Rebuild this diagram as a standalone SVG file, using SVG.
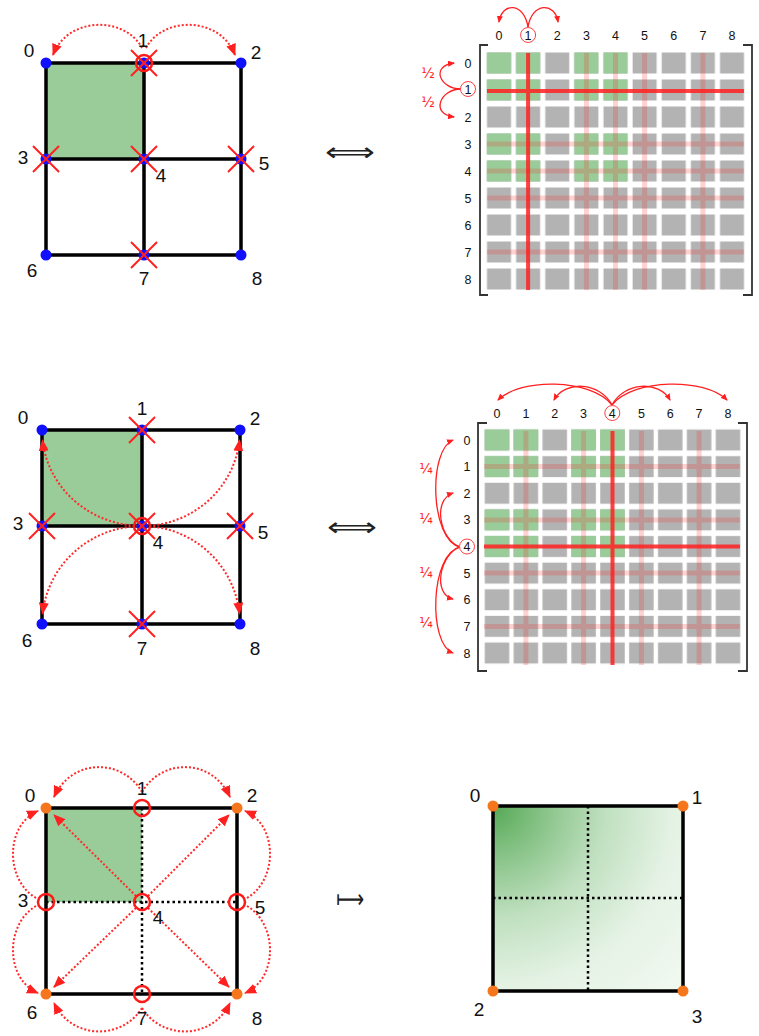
<svg xmlns="http://www.w3.org/2000/svg" xmlns:xlink="http://www.w3.org/1999/xlink" width="759" height="1036" viewBox="0 0 759 1036">
<style>
.lbl{font-family:"Liberation Sans",Arial,sans-serif;font-size:19px;fill:#111;text-anchor:middle}
.ml{font-family:"Liberation Sans",Arial,sans-serif;font-size:12.5px;fill:#111;text-anchor:middle}
.frac{font-family:"DejaVu Sans","Liberation Sans",sans-serif;font-size:14px;fill:#ff2020;text-anchor:middle}
.sym{font-family:"DejaVu Sans",sans-serif;font-size:26px;fill:#222}
.edge{stroke:#000;stroke-width:3.5;fill:none}
.idot{stroke:#000;stroke-width:2.5;stroke-dasharray:2.5 3;fill:none}
.rdot{stroke:#ff2a2a;stroke-width:2;stroke-dasharray:2 2;fill:none}
.rarc{stroke:#ff2020;stroke-width:1.3;fill:none}
.circ{fill:none;stroke:#ff1a1a;stroke-width:2.5}
.mc{fill:#fff;stroke:#ff4040;stroke-width:1}
.blue{fill:#1010ff}
.orange{fill:#f5761c}
.thick{stroke:#ff2020;stroke-opacity:0.85;stroke-width:4}
.faint{stroke:#ff2020;stroke-opacity:0.2;stroke-width:5}
.brk{stroke:#333;stroke-width:1.8;fill:none}
</style>
<defs>
<marker id="ah" markerUnits="userSpaceOnUse" markerWidth="12" markerHeight="10" viewBox="0 0 12 10" refX="11" refY="5" orient="auto">
<path d="M0,0L12,5L0,10z" fill="#ff2020"/>
</marker>
<marker id="sa" markerUnits="userSpaceOnUse" markerWidth="7" markerHeight="6" viewBox="0 0 7 6" refX="6" refY="3" orient="auto">
<path d="M0,0L7,3L0,6z" fill="#ff2020"/>
</marker>
<path id="cross" d="M-13,-13L13,13M13,-13L-13,13" stroke="#ff2020" stroke-width="2" fill="none"/>
<pattern id="gp1" patternUnits="userSpaceOnUse" x="484.44" y="49.5" width="29.125" height="27">
<rect x="2.56" y="3" width="24" height="21" fill="#b3b3b3"/>
</pattern>
<pattern id="gn1" patternUnits="userSpaceOnUse" x="484.44" y="49.5" width="29.125" height="27">
<rect x="2.56" y="3" width="24" height="21" fill="#99cc99"/>
</pattern>
<pattern id="gp2" patternUnits="userSpaceOnUse" x="482.56" y="426.69" width="28.875" height="26.625">
<rect x="2.19" y="2.81" width="24.5" height="21" fill="#b3b3b3"/>
</pattern>
<pattern id="gn2" patternUnits="userSpaceOnUse" x="482.56" y="426.69" width="28.875" height="26.625">
<rect x="2.19" y="2.81" width="24.5" height="21" fill="#99cc99"/>
</pattern>
<radialGradient id="shape" gradientUnits="userSpaceOnUse" cx="493" cy="806" r="250">
<stop offset="0" stop-color="#55a955"/>
<stop offset="0.22" stop-color="#8cc58c"/>
<stop offset="0.45" stop-color="#c0e0c0"/>
<stop offset="0.72" stop-color="#e4f2e4"/>
<stop offset="1" stop-color="#f0f8f0"/>
</radialGradient>
</defs>

<!-- ===== Top-left grid ===== -->
<g id="top-grid">
<rect x="46" y="63" width="98" height="96" fill="#99cc99"/>
<path class="edge" d="M46,63H241M46,159H241M46,255H241M46,63V255M144,63V255M241,63V255"/>
</g>
<g id="top-connectors">
<path class="rdot" d="M142,48C125,16 68,16 53,55" marker-end="url(#ah)"/>
<path class="rdot" d="M146,48C163,16 220,16 235,55" marker-end="url(#ah)"/>
</g>
<g id="t0"><circle class="blue" cx="46" cy="63" r="5.5"/><text class="lbl" x="29" y="57">0</text></g>
<g id="t1"><circle class="blue" cx="144" cy="63" r="5.5"/><use xlink:href="#cross" x="144" y="63"/><circle class="circ" cx="144" cy="63" r="8"/><text class="lbl" x="143" y="47">1</text></g>
<g id="t2"><circle class="blue" cx="241" cy="63" r="5.5"/><text class="lbl" x="256" y="59">2</text></g>
<g id="t3"><circle class="blue" cx="46" cy="159" r="5.5"/><use xlink:href="#cross" x="46" y="159"/><text class="lbl" x="23" y="164">3</text></g>
<g id="t4"><circle class="blue" cx="144" cy="159" r="5.5"/><use xlink:href="#cross" x="144" y="159"/><text class="lbl" x="161" y="182">4</text></g>
<g id="t5"><circle class="blue" cx="241" cy="159" r="5.5"/><use xlink:href="#cross" x="241" y="159"/><text class="lbl" x="264" y="170">5</text></g>
<g id="t6"><circle class="blue" cx="46" cy="255" r="5.5"/><text class="lbl" x="32" y="277">6</text></g>
<g id="t7"><circle class="blue" cx="144" cy="255" r="5.5"/><use xlink:href="#cross" x="144" y="255"/><text class="lbl" x="144" y="285">7</text></g>
<g id="t8"><circle class="blue" cx="241" cy="255" r="5.5"/><text class="lbl" x="257" y="285">8</text></g>

<text id="sym1" class="sym" x="325" y="161" textLength="50" lengthAdjust="spacingAndGlyphs">⟺</text>

<!-- ===== Top matrix ===== -->
<g id="top-matrix">
<rect x="484.44" y="49.5" width="262.125" height="243" fill="url(#gp1)"/>
<rect x="484.44" y="49.5" width="58.25" height="54" fill="url(#gn1)"/>
<rect x="571.81" y="49.5" width="58.25" height="54" fill="url(#gn1)"/>
<rect x="484.44" y="130.5" width="58.25" height="54" fill="url(#gn1)"/>
<rect x="571.81" y="130.5" width="58.25" height="54" fill="url(#gn1)"/>
<path class="faint" d="M586.4,53V290M615.5,53V290M644.6,53V290M702.9,53V290M487,144H744M487,171H744M487,198H744M487,252H744"/>
<path class="thick" d="M528.1,53V290M487,91H744"/>
<path class="brk" d="M488,45H480V295H488M743,45H752V295H743"/>
<g class="ml">
<text x="499" y="39.5">0</text><text x="557.3" y="39.5">2</text><text x="586.4" y="39.5">3</text><text x="615.5" y="39.5">4</text><text x="644.6" y="39.5">5</text><text x="673.8" y="39.5">6</text><text x="702.9" y="39.5">7</text><text x="732" y="39.5">8</text>
<text x="468" y="67.5">0</text><text x="468" y="121.5">2</text><text x="468" y="148.5">3</text><text x="468" y="175.5">4</text><text x="468" y="202.5">5</text><text x="468" y="229.5">6</text><text x="468" y="256.5">7</text><text x="468" y="283.5">8</text>
</g>
</g>
<g id="top-matrix-connectors">
<path class="rarc" d="M528,27C524,2 502,2 499,22" marker-end="url(#sa)"/>
<path class="rarc" d="M528,27C532,2 555,2 558,22" marker-end="url(#sa)"/>
<path class="rarc" d="M461,89C440,89 430,66 454,63" marker-end="url(#sa)"/>
<path class="rarc" d="M461,89C440,89 430,114 454,117" marker-end="url(#sa)"/>
</g>
<g id="tm-col1"><circle class="mc" cx="528.1" cy="35" r="7.5"/><text class="ml" x="528.1" y="39.5">1</text></g>
<g id="tm-row1"><circle class="mc" cx="468" cy="89" r="7.5"/><text class="ml" x="468" y="93.5">1</text></g>
<text class="frac" x="428" y="78">½</text>
<text class="frac" x="428" y="107">½</text>

<!-- ===== Middle-left grid ===== -->
<g id="mid-grid">
<rect x="42" y="430" width="100" height="96" fill="#99cc99"/>
<path class="edge" d="M42,430H240M42,526H240M42,624H240M42,430V624M142,430V624M240,430V624"/>
</g>
<g id="mid-connectors">
<path class="rdot" d="M138.5,525.9A100,96 0 0 1 42.5,440" marker-end="url(#ah)"/>
<path class="rdot" d="M145.4,525.9A98,96 0 0 0 239.5,440" marker-end="url(#ah)"/>
<path class="rdot" d="M138.5,526.1A100,98 0 0 0 42.6,613.8" marker-end="url(#ah)"/>
<path class="rdot" d="M145.4,526.1A98,98 0 0 1 239.5,613.8" marker-end="url(#ah)"/>
</g>
<g id="m0"><circle class="blue" cx="42" cy="430" r="5.5"/><text class="lbl" x="23" y="424">0</text></g>
<g id="m1"><circle class="blue" cx="142" cy="430" r="5.5"/><use xlink:href="#cross" x="142" y="430"/><text class="lbl" x="142" y="415">1</text></g>
<g id="m2"><circle class="blue" cx="240" cy="430" r="5.5"/><text class="lbl" x="255" y="425">2</text></g>
<g id="m3"><circle class="blue" cx="42" cy="526" r="5.5"/><use xlink:href="#cross" x="42" y="526"/><text class="lbl" x="18" y="530">3</text></g>
<g id="m4"><circle class="blue" cx="142" cy="526" r="5.5"/><use xlink:href="#cross" x="142" y="526"/><circle class="circ" cx="142" cy="526" r="8"/><text class="lbl" x="158" y="549">4</text></g>
<g id="m5"><circle class="blue" cx="240" cy="526" r="5.5"/><use xlink:href="#cross" x="240" y="526"/><text class="lbl" x="263" y="539">5</text></g>
<g id="m6"><circle class="blue" cx="42" cy="624" r="5.5"/><text class="lbl" x="27" y="647">6</text></g>
<g id="m7"><circle class="blue" cx="142" cy="624" r="5.5"/><use xlink:href="#cross" x="142" y="624"/><text class="lbl" x="142" y="655">7</text></g>
<g id="m8"><circle class="blue" cx="240" cy="624" r="5.5"/><text class="lbl" x="255" y="655">8</text></g>

<text id="sym2" class="sym" x="327" y="536" textLength="50" lengthAdjust="spacingAndGlyphs">⟺</text>

<!-- ===== Middle matrix ===== -->
<g id="mid-matrix">
<rect x="482.56" y="426.69" width="259.875" height="239.625" fill="url(#gp2)"/>
<rect x="482.56" y="426.69" width="57.75" height="53.25" fill="url(#gn2)"/>
<rect x="569.19" y="426.69" width="57.75" height="53.25" fill="url(#gn2)"/>
<rect x="482.56" y="506.56" width="57.75" height="53.25" fill="url(#gn2)"/>
<rect x="569.19" y="506.56" width="57.75" height="53.25" fill="url(#gn2)"/>
<path class="faint" d="M525.9,431V665M583.6,431V665M641.4,431V665M699.1,431V665M484,466.6H740M484,519.9H740M484,573.1H740M484,626.4H740"/>
<path class="thick" d="M612.5,431V665M484,546.5H740"/>
<path class="brk" d="M487,423H478V671H487M738,423H747V671H738"/>
<g class="ml">
<text x="497" y="417.5">0</text><text x="525.9" y="417.5">1</text><text x="554.8" y="417.5">2</text><text x="583.6" y="417.5">3</text><text x="641.4" y="417.5">5</text><text x="670.3" y="417.5">6</text><text x="699.1" y="417.5">7</text><text x="728" y="417.5">8</text>
<text x="467" y="444.5">0</text><text x="467" y="471.1">1</text><text x="467" y="497.8">2</text><text x="467" y="524.4">3</text><text x="467" y="577.6">5</text><text x="467" y="604.3">6</text><text x="467" y="630.9">7</text><text x="467" y="657.5">8</text>
</g>
</g>
<g id="mid-matrix-connectors">
<path class="rarc" d="M612,405C590,378 520,378 498,400" marker-end="url(#sa)"/>
<path class="rarc" d="M612,405C600,382 565,380 554,400" marker-end="url(#sa)"/>
<path class="rarc" d="M612,405C624,382 659,380 670,400" marker-end="url(#sa)"/>
<path class="rarc" d="M612,405C634,378 705,378 727,400" marker-end="url(#sa)"/>
<path class="rarc" d="M460,547C430,540 428,450 453,440" marker-end="url(#sa)"/>
<path class="rarc" d="M460,547C440,540 432,500 453,493" marker-end="url(#sa)"/>
<path class="rarc" d="M460,547C440,554 432,594 453,599" marker-end="url(#sa)"/>
<path class="rarc" d="M460,547C430,554 428,644 453,653" marker-end="url(#sa)"/>
</g>
<g id="mm-col4"><circle class="mc" cx="612.3" cy="413" r="7.5"/><text class="ml" x="612.3" y="417.5">4</text></g>
<g id="mm-row4"><circle class="mc" cx="467" cy="546.5" r="7.5"/><text class="ml" x="467" y="551">4</text></g>
<text class="frac" x="426" y="473">¼</text>
<text class="frac" x="426" y="523">¼</text>
<text class="frac" x="426" y="577">¼</text>
<text class="frac" x="426" y="627">¼</text>

<!-- ===== Bottom-left grid ===== -->
<g id="bot-grid">
<rect x="46" y="808" width="96" height="94" fill="#99cc99"/>
<path class="edge" d="M46,808H237V994H46Z"/>
<path class="idot" d="M142,808V994M46,902H237"/>
</g>
<g id="bot-connectors">
<path class="rdot" d="M142,792C122,758 72,758 54,797" marker-end="url(#ah)"/>
<path class="rdot" d="M142,792C162,758 212,758 230,797" marker-end="url(#ah)"/>
<path class="rdot" d="M36,898C5,880 5,825 38,811" marker-end="url(#ah)"/>
<path class="rdot" d="M36,906C5,924 5,979 38,993" marker-end="url(#ah)"/>
<path class="rdot" d="M247,898C278,880 278,825 245,811" marker-end="url(#ah)"/>
<path class="rdot" d="M247,906C278,924 278,979 245,993" marker-end="url(#ah)"/>
<path class="rdot" d="M142,1008C122,1040 72,1040 54,1003" marker-end="url(#ah)"/>
<path class="rdot" d="M142,1008C162,1040 212,1040 230,1003" marker-end="url(#ah)"/>
<path class="rdot" d="M136,896L54,815" marker-end="url(#ah)"/>
<path class="rdot" d="M148,896L229,815" marker-end="url(#ah)"/>
<path class="rdot" d="M136,908L54,987" marker-end="url(#ah)"/>
<path class="rdot" d="M148,908L229,987" marker-end="url(#ah)"/>
</g>
<g id="b0"><circle class="orange" cx="46" cy="808" r="5.5"/><text class="lbl" x="30" y="802">0</text></g>
<g id="b1"><circle class="circ" cx="142" cy="808" r="8"/><text class="lbl" x="142" y="795">1</text></g>
<g id="b2"><circle class="orange" cx="237" cy="808" r="5.5"/><text class="lbl" x="252" y="802">2</text></g>
<g id="b3"><circle class="circ" cx="46" cy="902" r="8"/><text class="lbl" x="23" y="907">3</text></g>
<g id="b4"><circle class="circ" cx="142" cy="902" r="8"/><text class="lbl" x="158" y="924">4</text></g>
<g id="b5"><circle class="circ" cx="237" cy="902" r="8"/><text class="lbl" x="260" y="914">5</text></g>
<g id="b6"><circle class="orange" cx="46" cy="994" r="5.5"/><text class="lbl" x="32" y="1019">6</text></g>
<g id="b7"><circle class="circ" cx="142" cy="994" r="8"/><text class="lbl" x="142" y="1025">7</text></g>
<g id="b8"><circle class="orange" cx="237" cy="994" r="5.5"/><text class="lbl" x="257" y="1025">8</text></g>

<text id="sym3" class="sym" x="336" y="908" textLength="28" lengthAdjust="spacingAndGlyphs">⟼</text>

<!-- ===== Bottom-right element ===== -->
<g id="coarse-element">
<rect x="493" y="806" width="190" height="185" fill="url(#shape)"/>
<path class="edge" d="M493,806H683V991H493Z"/>
<path class="idot" d="M588,806V991M493,898H683"/>
</g>
<g id="c0"><circle class="orange" cx="493" cy="806" r="5.5"/><text class="lbl" x="475" y="802">0</text></g>
<g id="c1"><circle class="orange" cx="683" cy="806" r="5.5"/><text class="lbl" x="697" y="804">1</text></g>
<g id="c2"><circle class="orange" cx="493" cy="991" r="5.5"/><text class="lbl" x="479" y="1016">2</text></g>
<g id="c3"><circle class="orange" cx="683" cy="991" r="5.5"/><text class="lbl" x="697" y="1023">3</text></g>
</svg>
